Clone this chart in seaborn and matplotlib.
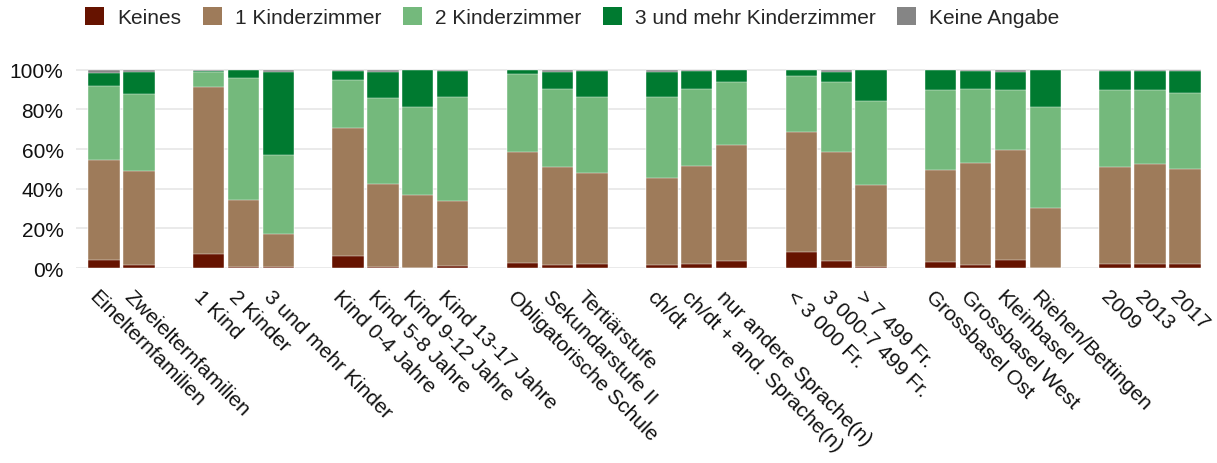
import numpy as np
import pandas as pd
import matplotlib
matplotlib.use("Agg")
import matplotlib.pyplot as plt
import matplotlib.transforms as mtransforms
import seaborn as sns
from matplotlib.patches import Patch
from matplotlib.ticker import PercentFormatter

# --- data (percent of households) ---
categories = [
    "Einelternfamilien", "Zweielternfamilien",
    "1 Kind", "2 Kinder", "3 und mehr Kinder",
    "Kind 0-4 Jahre", "Kind 5-8 Jahre", "Kind 9-12 Jahre", "Kind 13-17 Jahre",
    "Obligatorische Schule", "Sekundarstufe II", "Tertiärstufe",
    "ch/dt", "ch/dt + and. Sprache(n)", "nur andere Sprache(n)",
    "< 3 000 Fr.", "3 000-7 499 Fr.", "> 7 499 Fr.",
    "Grossbasel Ost", "Grossbasel West", "Kleinbasel", "Riehen/Bettingen",
    "2009", "2013", "2017",
]
group_sizes = [2, 3, 4, 3, 3, 3, 4, 3]

keines = [4.3, 1.7, 7.0, 0.5, 0.5, 6.2, 0.4, 0.3, 1.2, 2.8, 1.7, 2.3, 1.8,
          2.2, 3.8, 8.2, 3.5, 0.8, 3.0, 1.7, 4.3, 0.0, 2.3, 2.2, 2.2]
ein_zimmer = [50.0, 47.0, 84.2, 33.7, 16.7, 64.6, 41.8, 36.4, 32.5, 55.5, 49.0, 45.5, 43.4,
              49.5, 58.0, 60.5, 54.8, 40.9, 46.2, 51.3, 55.4, 30.3, 48.4, 50.5, 47.5]
zwei_zimmer = [37.4, 39.1, 7.5, 61.5, 40.0, 24.2, 43.3, 44.3, 52.6, 39.4, 39.5, 38.5, 40.8,
               38.5, 31.9, 28.1, 35.4, 42.6, 40.6, 37.2, 29.8, 50.9, 39.3, 37.0, 38.6]
drei_zimmer = [6.6, 11.0, 0.6, 4.3, 41.6, 4.3, 13.5, 19.0, 13.0, 2.3, 8.6, 13.0, 13.0,
               9.1, 6.3, 3.2, 5.1, 15.7, 10.2, 9.1, 9.3, 18.8, 9.3, 9.6, 11.0]
keine_angabe = [1.7, 1.2, 0.7, 0.0, 1.2, 0.7, 1.0, 0.0, 0.7, 0.0, 1.2, 0.7, 1.0,
                0.7, 0.0, 0.0, 1.2, 0.0, 0.0, 0.7, 1.2, 0.0, 0.7, 0.7, 0.7]

series_names = ["Keines", "1 Kinderzimmer", "2 Kinderzimmer",
                "3 und mehr Kinderzimmer", "Keine Angabe"]
colors = ["#661300", "#9e7b5a", "#74b97c", "#007a30", "#858585"]

# x positions with one empty slot between groups
positions = []
slot = 0
for size in group_sizes:
    positions.extend(range(slot, slot + size))
    slot += size + 1

df = pd.DataFrame({
    "pos": positions,
    "Keines": keines,
    "1 Kinderzimmer": ein_zimmer,
    "2 Kinderzimmer": zwei_zimmer,
    "3 und mehr Kinderzimmer": drei_zimmer,
    "Keine Angabe": keine_angabe,
})

sns.set_theme(style="white")
plt.rcParams["font.family"] = ["Liberation Sans", "DejaVu Sans"]

fig = plt.figure(figsize=(12.17, 4.64), dpi=100)
ax = fig.add_axes([0.0625, 0.42, 0.924, 0.432])

# stacked bars: draw cumulative totals from the top series down
cum = df[series_names].cumsum(axis=1)
for name, color in reversed(list(zip(series_names, colors))):
    sns.barplot(x=df["pos"], y=cum[name], native_scale=True, width=0.9,
                color=color, saturation=1, edgecolor="white", linewidth=0.3,
                ax=ax, zorder=3)

ax.set_xlim(-0.8, positions[-1] + 0.45)
ax.set_ylim(0, 101)
ax.set_yticks([0, 20, 40, 60, 80, 100])
ax.yaxis.set_major_formatter(PercentFormatter(decimals=0))
ax.grid(axis="y", color="#e6e6e6", linewidth=1.2, zorder=0)
ax.set_axisbelow(True)
sns.despine(ax=ax, left=True, bottom=True)
ax.set_xlabel("")
ax.set_ylabel("")

ax.set_xticks(positions)
ax.set_xticklabels(categories, rotation=-45, ha="left", va="top",
                   rotation_mode="anchor", fontsize=15, color="#111111")
ax.tick_params(axis="x", length=0, pad=13)
ax.tick_params(axis="y", length=0, labelsize=15, labelcolor="#111111", pad=9)
shift = mtransforms.ScaledTranslation(-5 / 100, 0, fig.dpi_scale_trans)
for lbl in ax.get_xticklabels():
    lbl.set_transform(lbl.get_transform() + shift)

handles = [Patch(facecolor=c, edgecolor="none") for c in colors]
fig.legend(handles, series_names, loc="upper left",
           bbox_to_anchor=(85 / 1217, 1 - 8 / 464), borderaxespad=0, borderpad=0,
           ncol=5, frameon=False, fontsize=15, handlelength=0.9, handleheight=0.92,
           handletextpad=0.64, columnspacing=1.04)

fig.savefig("out.png", dpi=100)
